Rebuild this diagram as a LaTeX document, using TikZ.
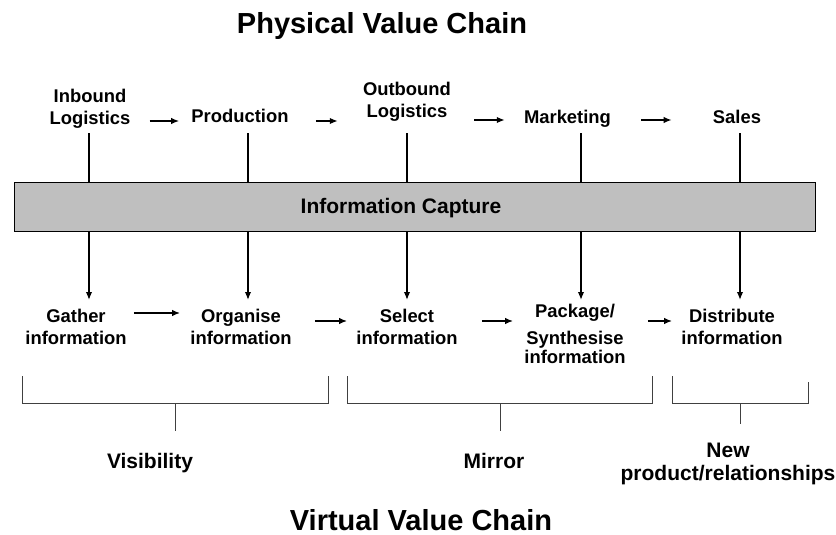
\documentclass[tikz,border=0pt]{standalone}
\usepackage{fontspec}
\setmainfont{Liberation Sans}
\usepackage{tikz}
\usetikzlibrary{arrows.meta}
\usetikzlibrary{calc}

\begin{document}
\begin{tikzpicture}[x=1pt,y=-1pt,>={Latex[length=8pt,width=6.5pt]},semithick]
	\tikzstyle{every node}=[inner sep=2pt]
	\tikzstyle{lbl}=[align=center, font=\fontsize{18.4}{22}\selectfont\bfseries]
	\tikzstyle{res}=[align=center, font=\fontsize{21}{23}\selectfont\bfseries]
	\tikzstyle{big}=[font=\fontsize{29}{34}\selectfont\bfseries]
	\tikzstyle{link}=[line width=1.5pt]
	\tikzstyle{arr}=[line width=1.5pt, ->]
	\tikzstyle{brace}=[line width=0.8pt, black!75]
	\useasboundingbox (0,0) rectangle (836,535);

	\node[big] (PVC) at (382,26) {Physical Value Chain};

	% physical chain
	\node[lbl] (IL) at (90,109) {Inbound\\Logistics};
	\node[lbl] (P)  at (240,116.3) {Production};
	\node[lbl] (OL) at (407,102) {Outbound\\Logistics};
	\node[lbl] (M)  at (567.5,118.3) {Marketing};
	\node[lbl] (S)  at (737,116.5) {Sales};

	% capture band
	\node[draw, fill=black!25, thin, minimum width=801pt, minimum height=49pt] (bar) at (414.5,206.5) {};
	\node[res] (IC) at (401,208.4) {Information Capture};

	% virtual chain
	\node[lbl] (G)  at (76,327) {Gather\\information};
	\node[lbl] (O)  at (241,327) {Organise\\information};
	\node[lbl] (Se) at (407,327) {Select\\information};
	\node[lbl] (Pk) at (575,334.3) {Package/\\[5pt]Synthesise\\[-3pt]information};
	\node[lbl] (D)  at (732,327) {Distribute\\information};

	\foreach \x in {89,248,407,581,740}{
		\draw[link] (\x,133) -- (\x,0 |- bar.north);
		\draw[arr] (\x,0 |- bar.south) -- (\x,300);
	}

	\foreach \a/\b/\y/\s/\t in {IL/P/121/17/10, P/OL/121/25/23, OL/M/120/21/17, M/S/120/28/39,
		G/O/313/5/8, O/Se/321/21/7, Se/Pk/321/22/9, Pk/D/321/20/7}
		\draw[arr, shorten <=\s pt, shorten >=\t pt] (\a.east |- 0,\y) -- (\b.west |- 0,\y);

	% groupings
	\draw[brace] (22,376) |- (328,403) -- (328,376);
	\draw[brace] (175,403) -- (175,431);
	\draw[brace] (347,376) |- (652,403) -- (652,376);
	\draw[brace] (500,403) -- (500,431);
	\draw[brace] (672,376) |- (808,403) -- (808,382);
	\draw[brace] (740,403) -- (740,424);

	\node[res] (V)  at (150,463.5) {Visibility};
	\node[res] (Mi) at (494,461) {Mirror};
	\node[res] (N)  at (728,464) {New\\product/relationships};

	\node[big] (VVC) at (421,520) {Virtual Value Chain};
\end{tikzpicture}
\end{document}
